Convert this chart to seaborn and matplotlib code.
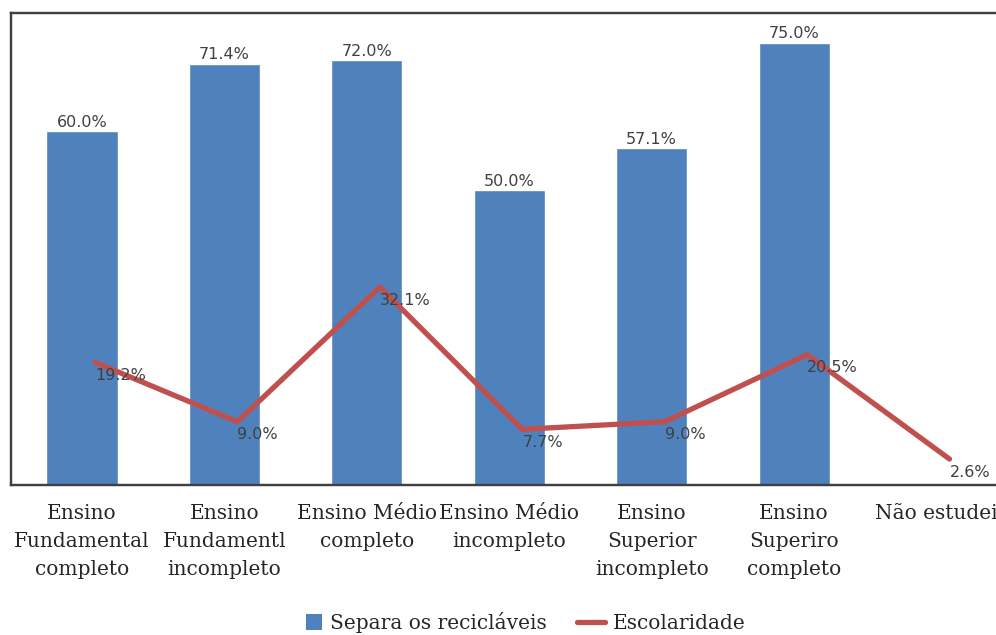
import numpy as np
import matplotlib
matplotlib.use("Agg")
import matplotlib.pyplot as plt
import matplotlib.transforms as mtransforms
from matplotlib.patches import Patch, Rectangle
from matplotlib.lines import Line2D
from matplotlib.legend_handler import HandlerPatch
import seaborn as sns

categories = [
    "Ensino\nFundamental\ncompleto",
    "Ensino\nFundamentl\nincompleto",
    "Ensino Médio\ncompleto",
    "Ensino Médio\nincompleto",
    "Ensino\nSuperior\nincompleto",
    "Ensino\nSuperiro\ncompleto",
    "Não estudei",
]
separa = [60.0, 71.4, 72.0, 50.0, 57.1, 75.0, 0.0]
escolaridade = [19.2, 9.0, 32.1, 7.7, 9.0, 20.5, 2.6]

BLUE = "#4F81BD"
RED = "#C0504D"

sns.set_theme(style="white")
plt.rcParams["font.family"] = ["DejaVu Sans"]

fig = plt.figure(figsize=(9.96, 6.35), dpi=100)
ax = fig.add_axes([10.75 / 996, 150 / 635, 997 / 996, 472 / 635])

pos = np.arange(len(categories))
sns.barplot(x=pos, y=separa, color=BLUE, width=0.5, ax=ax, saturation=1, native_scale=True)
ax.set_xlim(-0.5, 6.5)
ax.set_ylim(0, 80)

for x, v in zip(pos, separa):
    if v > 0:
        ax.annotate(f"{v:.1f}%", (x, v), xytext=(0, 1), textcoords="offset points",
                    ha="center", va="bottom", fontsize=11.5, color="#404040")

# secondary axis for the line series; the line sits slightly right of the bar centres
ax2 = ax.twinx()
sns.lineplot(x=pos, y=escolaridade, color=RED, linewidth=3.8, ax=ax2, sort=False)
ax2.set_ylim(-1.85, 79.1)
shift = mtransforms.offset_copy(ax2.transData, fig=fig, x=13, y=0, units="dots")
for ln in ax2.get_lines():
    ln.set_transform(shift)
for x, v in zip(pos, escolaridade):
    ax2.annotate(f"{v:.1f}%", (x, v), xycoords=shift, xytext=(0, -4),
                 textcoords="offset points", ha="left", va="top",
                 fontsize=11.5, color="#404040")

ax.set_xticks(pos)
ax.set_xticklabels(categories, fontfamily="DejaVu Serif", fontsize=14.5,
                   color="#262626", linespacing=1.6)
ax.tick_params(axis="x", length=0, pad=14)
ax.set_yticks([])
ax2.set_yticks([])
ax.set_ylabel("")
ax2.set_ylabel("")

for a in (ax, ax2):
    for s in a.spines.values():
        s.set_color("#404040")
        s.set_linewidth(1.6)


class SquareHandler(HandlerPatch):
    def create_artists(self, legend, orig_handle, xdescent, ydescent, width, height,
                       fontsize, trans):
        side = height * 1.15
        p = Rectangle((width - side - xdescent, -ydescent - (side - height) / 2), side, side,
                      facecolor=orig_handle.get_facecolor(), edgecolor="none",
                      transform=trans)
        return [p]


handles = [
    Patch(facecolor=BLUE, edgecolor="none", label="Separa os recicláveis"),
    Line2D([0], [0], color=RED, linewidth=3.8, label="Escolaridade"),
]
fig.legend(handles=handles, loc="lower center", bbox_to_anchor=(0.522, -0.025), ncol=2,
           frameon=False, prop={"family": "DejaVu Serif", "size": 14.5},
           handlelength=1.4, columnspacing=1.5, handletextpad=0.4,
           handler_map={Patch: SquareHandler()})

fig.savefig("out.png", dpi=100)
